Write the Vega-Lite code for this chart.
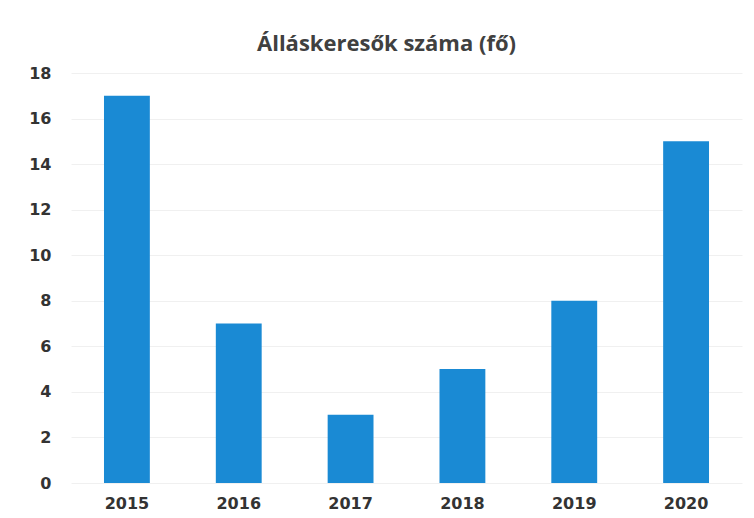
{
  "$schema": "https://vega.github.io/schema/vega-lite/v6.json",
  "width": 754,
  "height": 518,
  "autosize": {"type": "fit", "contains": "padding"},
  "padding": {"left": 28, "top": 33, "right": 12, "bottom": 7},
  "background": "white",
  "title": {
    "text": "Álláskeresők száma (fő)",
    "font": "Open Sans",
    "fontSize": 22,
    "fontWeight": "bold",
    "color": "#404040",
    "offset": 9,
    "dx": -20,
    "anchor": "middle"
  },
  "data": {
    "values": [
      {"year": "2015", "value": 17},
      {"year": "2016", "value": 7},
      {"year": "2017", "value": 3},
      {"year": "2018", "value": 5},
      {"year": "2019", "value": 8},
      {"year": "2020", "value": 15}
    ]
  },
  "mark": {"type": "bar", "color": "#1a8ad4"},
  "encoding": {
    "x": {
      "field": "year",
      "type": "nominal",
      "scale": {"paddingInner": 0.59, "paddingOuter": 0.295},
      "axis": {
        "title": null,
        "labelAngle": 0,
        "labelFont": "DejaVu Sans",
        "labelFontSize": 16,
        "labelFontWeight": "bold",
        "labelColor": "#333333",
        "labelPadding": 12,
        "domain": false,
        "ticks": false
      }
    },
    "y": {
      "field": "value",
      "type": "quantitative",
      "scale": {"domain": [0, 18]},
      "axis": {
        "title": null,
        "values": [0, 2, 4, 6, 8, 10, 12, 14, 16, 18],
        "labelFont": "DejaVu Sans",
        "labelFontSize": 16,
        "labelFontWeight": "bold",
        "labelColor": "#333333",
        "labelPadding": 20,
        "domain": false,
        "ticks": false,
        "grid": true,
        "gridColor": "#f0f0f0"
      }
    }
  },
  "config": {"view": {"stroke": null}}
}
